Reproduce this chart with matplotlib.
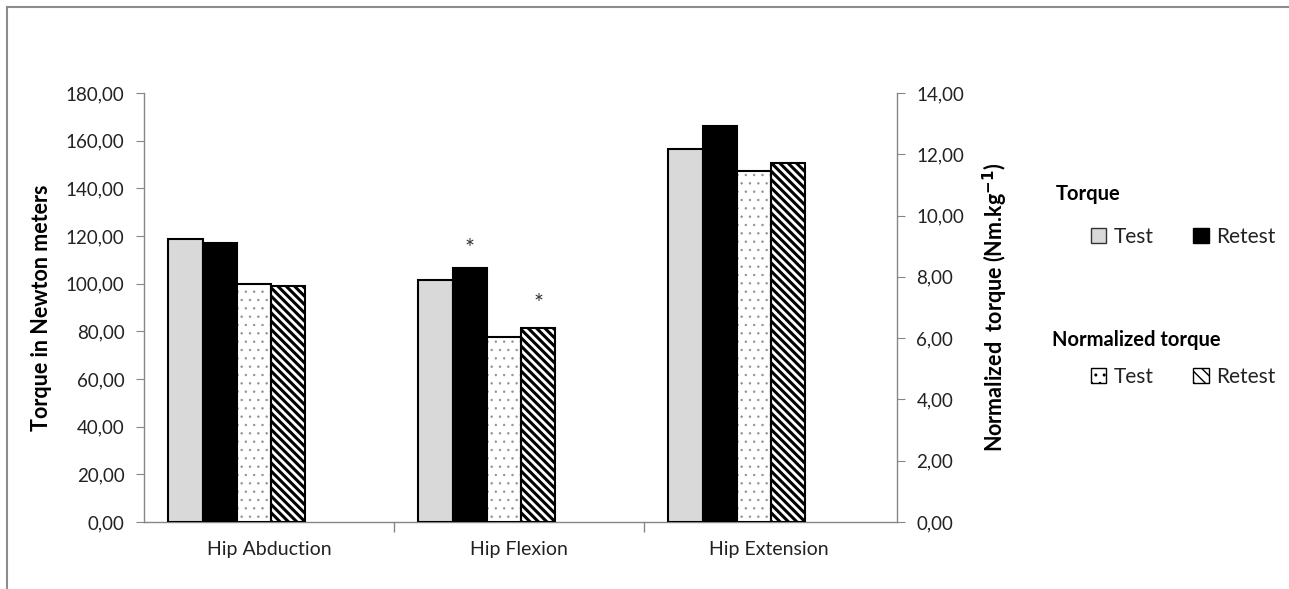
import numpy as np
import matplotlib
matplotlib.use("Agg")
import matplotlib.pyplot as plt
from matplotlib.patches import Patch
from matplotlib.lines import Line2D
from matplotlib.ticker import FuncFormatter, FixedLocator

plt.rcParams['font.family'] = ['Lato', 'DejaVu Sans']

categories = ["Hip Abduction", "Hip Flexion", "Hip Extension"]
torque_test = [118.7, 101.5, 156.5]
torque_retest = [117.0, 106.6, 166.2]
norm_test = [7.77, 6.04, 11.46]
norm_retest = [7.70, 6.33, 11.72]
significant = [False, True, False]  # asterisk over retest bars

fig = plt.figure(figsize=(12.89, 5.89), dpi=100)
ax = fig.add_axes([144/1289, 1 - 522/589, (897 - 144)/1289, (522 - 93)/589])
ax2 = ax.twinx()

x = np.arange(len(categories))
w = 0.137
off = np.array([-2, -1, 0, 1]) * w - 0.06

ax.bar(x + off[0], torque_test, w, color="#d9d9d9", edgecolor="black", linewidth=1.5, zorder=3)
ax.bar(x + off[1], torque_retest, w, color="black", edgecolor="black", linewidth=1.5, zorder=3)

# dotted bars: gray sparse dots, then black outline on top
with plt.rc_context({'hatch.linewidth': 0.5}):
    ax2.bar(x + off[2], norm_test, w, color="white", edgecolor="#909090", hatch="..",
            linewidth=0, zorder=3)
ax2.bar(x + off[2], norm_test, w, fill=False, edgecolor="black", linewidth=1.5, zorder=4)

with plt.rc_context({'hatch.linewidth': 2.2}):
    ax2.bar(x + off[3], norm_retest, w, color="white", edgecolor="black", hatch="\\\\\\\\",
            linewidth=1.5, zorder=3)

for i, s in enumerate(significant):
    if s:
        ax.text(x[i] + off[1], torque_retest[i] + 8, "*", ha="center", va="center",
                fontsize=17, color="#333333")
        ax2.text(x[i] + off[3], norm_retest[i] + 0.8, "*", ha="center", va="center",
                 fontsize=17, color="#333333")

ax.set_xlim(-0.5, 2.512)
ax.set_ylim(0, 180)
ax2.set_ylim(0, 14)
ax.set_yticks(np.arange(0, 181, 20))
ax2.set_yticks(np.arange(0, 15, 2))
fmt = FuncFormatter(lambda v, p: f"{v:.2f}".replace(".", ","))
ax.yaxis.set_major_formatter(fmt)
ax2.yaxis.set_major_formatter(fmt)

ax.set_xticks(x)
ax.set_xticklabels(categories)
ax.xaxis.set_minor_locator(FixedLocator([0.5, 1.5]))
ax.tick_params(axis="x", which="major", length=0, pad=14, labelsize=14, labelcolor="#222222")
ax.tick_params(axis="x", which="minor", length=7, color="#868686", width=1)

gray = "#868686"
for a in (ax, ax2):
    for sp in a.spines.values():
        sp.set_visible(False)
ax.spines["left"].set_visible(True)
ax.spines["bottom"].set_visible(True)
ax2.spines["right"].set_visible(True)
for sp in (ax.spines["left"], ax.spines["bottom"], ax2.spines["right"]):
    sp.set_color(gray)
    sp.set_linewidth(1)

ax.tick_params(axis="y", length=6, color=gray, pad=8, labelsize=13.5, labelcolor="#222222")
ax2.tick_params(axis="y", length=6, color=gray, pad=8, labelsize=13.5, labelcolor="#222222")

ax.set_ylabel("Torque in Newton meters", fontsize=15.5, fontweight="bold", labelpad=10)
ax2.set_ylabel("Normalized  torque (Nm.kg$^{\\mathbf{-1}}$)", fontsize=15.5,
               fontweight="bold", labelpad=12)

# legends
fig.text(1056/1289, 1 - 194/589, "Torque", fontsize=14.5, fontweight="bold", va="center")
fig.text(1052/1289, 1 - 340/589, "Normalized torque", fontsize=14.5, fontweight="bold", va="center")
h1 = [Patch(facecolor="#d9d9d9", edgecolor="#333333", label="Test"),
      Patch(facecolor="black", edgecolor="black", label="Retest")]
with plt.rc_context({'hatch.linewidth': 0.8}):
    hp = Patch(facecolor="white", edgecolor="black", hatch="..", label="Test")
with plt.rc_context({'hatch.linewidth': 1.8}):
    hs = Patch(facecolor="white", edgecolor="black", hatch="\\\\\\", label="Retest")
h2 = [hp, hs]
leg1 = fig.legend(handles=h1, ncol=2, loc="center left", bbox_to_anchor=(1072/1289, 1 - 237/589),
                  frameon=False, fontsize=15, handlelength=0.75, handleheight=0.75,
                  handletextpad=0.35, columnspacing=1.9)
leg2 = fig.legend(handles=h2, ncol=2, loc="center left", bbox_to_anchor=(1072/1289, 1 - 377/589),
                  frameon=False, fontsize=15, handlelength=0.75, handleheight=0.75,
                  handletextpad=0.35, columnspacing=1.9)
for leg in (leg1, leg2):
    for t in leg.get_texts():
        t.set_color("#222222")

# outer frame (only top and left edges fall inside the picture)
fy = 1 - 7/589
fx = 7/1289
fig.add_artist(Line2D([fx, fx], [0, fy], transform=fig.transFigure, color="#8c8c8c", linewidth=1.5))
fig.add_artist(Line2D([fx, 1], [fy, fy], transform=fig.transFigure, color="#8c8c8c", linewidth=1.5))

fig.savefig("out.png", dpi=100)
